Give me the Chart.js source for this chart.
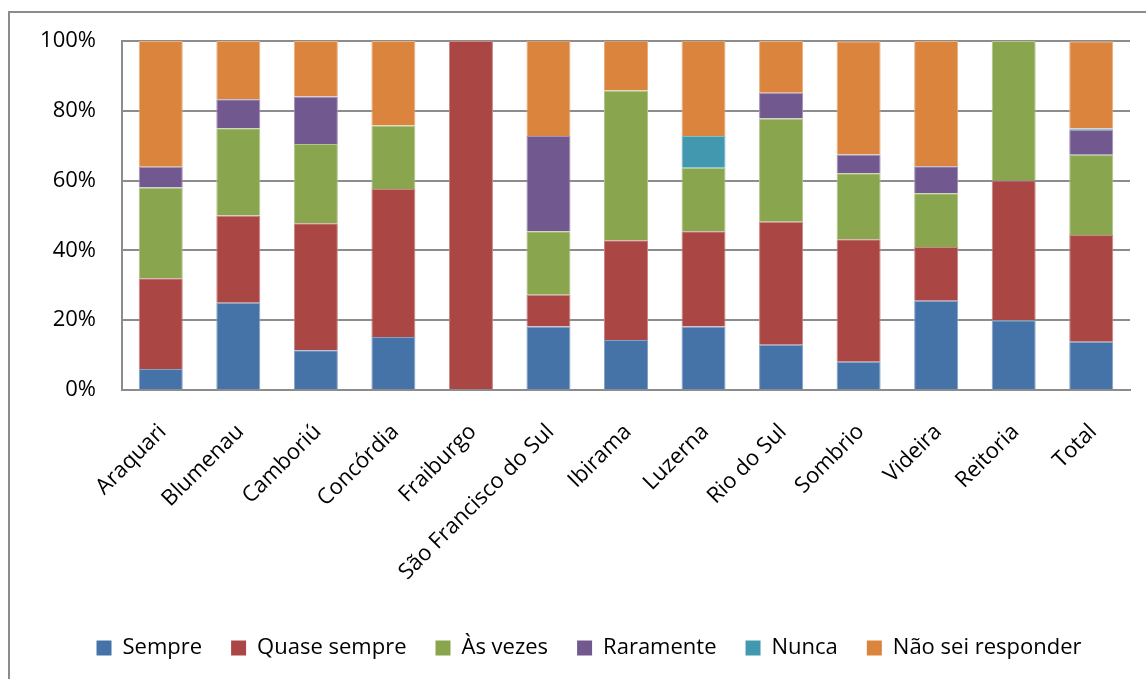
<!DOCTYPE html>
<html>
<head>
<meta charset="utf-8">
<script src="https://cdn.jsdelivr.net/npm/chart.js@4.4.1/dist/chart.umd.min.js"></script>
<style>
  html, body { margin: 0; padding: 0; background: #ffffff; }
  #wrap { position: relative; width: 1146px; height: 679px; overflow: hidden; background: #ffffff; }
  #frame { position: absolute; left: 8px; top: 11px; width: 1300px; height: 800px; border: 2px solid #8c8c8c; box-sizing: border-box; }
  #c { position: absolute; left: 0; top: 0; }
</style>
</head>
<body>
<div id="wrap">
  <div id="frame"></div>
  <canvas id="c" width="1146" height="679"></canvas>
</div>
<script>
// Campus / unit names along the x axis
const categories = ['Araquari', 'Blumenau', 'Camboriú', 'Concórdia', 'Fraiburgo', 'São Francisco do Sul',
  'Ibirama', 'Luzerna', 'Rio do Sul', 'Sombrio', 'Videira', 'Reitoria', 'Total'];

// Share of answers per unit (%)
const sempre       = [6,  25,   11.4, 15.2, 0,   18.2, 14.3, 18.2, 13.0, 8.1,  25.6, 20, 13.8];
const quaseSempre  = [26, 25,   36.4, 42.4, 100, 9.1,  28.6, 27.3, 35.2, 35.1, 15.4, 40, 30.6];
const asVezes      = [26, 25,   22.7, 18.2, 0,   18.2, 42.9, 18.2, 29.6, 18.9, 15.4, 40, 23.0];
const raramente    = [6,  8.3,  13.6, 0,    0,   27.3, 0,    0,    7.4,  5.4,  7.7,  0,  7.2];
const nunca        = [0,  0,    0,    0,    0,   0,    0,    9.1,  0,    0,    0,    0,  0.3];
const naoSei       = [36, 16.7, 15.9, 24.2, 0,   27.3, 14.3, 27.3, 14.8, 32.4, 35.9, 0,  25.0];

const seriesNames = ['Sempre', 'Quase sempre', 'Às vezes', 'Raramente', 'Nunca', 'Não sei responder'];
const yTicks = [0, 20, 40, 60, 80, 100];

const colors = ['#4572A7', '#AA4643', '#89A54E', '#71588F', '#4198AF', '#DB843D'];
const edgeColors = ['#86a3c6', '#c88785', '#b2c58c', '#a392b6', '#83bccb', '#e8af81'];
const seriesValues = [sempre, quaseSempre, asVezes, raramente, nunca, naoSei];

const FONT = "'Open Sans', 'Noto Sans', sans-serif";
const GRID = '#8c8c8c';

const datasets = seriesNames.map((name, i) => ({
  label: name,
  data: seriesValues[i],
  backgroundColor: colors[i],
  borderColor: edgeColors[i],
  borderWidth: { top: 1, left: 1, right: 1, bottom: 0 },
  borderSkipped: false,
  barPercentage: 0.568,
  categoryPercentage: 1.0
}));

// Nudge the legend row to the right so it sits under the plot
const legendShift = {
  id: 'legendShift',
  afterLayout(chart) {
    const lg = chart.legend;
    if (lg) { lg.left += 24; lg.right += 24; }
  }
};

new Chart(document.getElementById('c'), {
  type: 'bar',
  data: { labels: categories, datasets },
  plugins: [legendShift],
  options: {
    responsive: false,
    animation: false,
    layout: { padding: { left: 0, top: 41, right: 16, bottom: 10 } },
    plugins: {
      tooltip: { enabled: false },
      legend: {
        position: 'bottom',
        align: 'center',
        labels: {
          boxWidth: 15,
          boxHeight: 15,
          padding: 29,
          color: '#000000',
          font: { family: FONT, size: 22 },
          generateLabels: (chart) => chart.data.datasets.map((ds, i) => ({
            text: ds.label,
            fillStyle: colors[i],
            strokeStyle: colors[i],
            lineWidth: 0,
            hidden: false,
            datasetIndex: i
          }))
        }
      }
    },
    scales: {
      x: {
        stacked: true,
        grid: { display: false },
        border: { display: true, color: GRID, width: 2 },
        ticks: {
          autoSkip: false,
          maxRotation: 45,
          minRotation: 45,
          padding: 21,
          labelOffset: 2,
          color: '#000000',
          font: { family: FONT, size: 22 }
        },
        afterFit: (s) => { s.height = 218; }
      },
      y: {
        stacked: true,
        min: 0,
        max: 100,
        afterBuildTicks: (s) => { s.ticks = yTicks.map(v => ({ value: v })); },
        grid: { color: GRID, lineWidth: 2, drawTicks: false },
        border: { display: true, color: GRID, width: 2 },
        ticks: {
          padding: 26,
          color: '#000000',
          font: { family: FONT, size: 22 },
          callback: (v) => v + '%'
        },
        afterFit: (s) => { s.width = 122; }
      }
    }
  }
});
</script>
</body>
</html>
